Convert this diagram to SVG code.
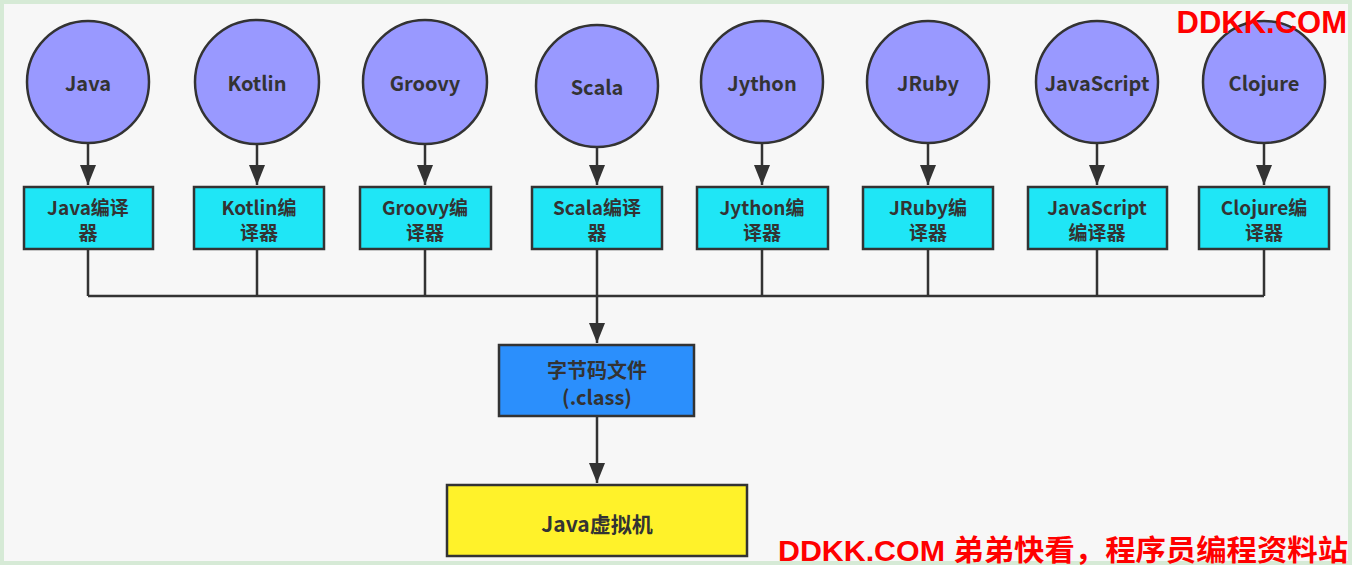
<svg xmlns="http://www.w3.org/2000/svg" width="1352" height="565" viewBox="0 0 1352 565">
<defs>
<style>
.bg{fill:#f7f7f7;stroke:#d6ead6;stroke-width:4}
.lang{fill:#9999ff;stroke:#333;stroke-width:2.5}
.comp{fill:#1fe6f6;stroke:#333;stroke-width:2.5}
.code{fill:#2b8ffc;stroke:#333;stroke-width:2.5}
.jvm{fill:#fff22a;stroke:#333;stroke-width:2.5}
.t{font-family:"Noto Sans CJK SC","Noto Sans",sans-serif;font-weight:bold;font-size:20px;fill:#333;text-anchor:middle}
.s{font-size:19px}
.wm{font-family:"Liberation Sans","Noto Sans CJK SC",sans-serif;font-weight:bold;fill:#ff0000}
.c{fill:none;stroke:#333;stroke-width:2.5}
</style>
<marker id="ahd" markerUnits="userSpaceOnUse" markerWidth="16" markerHeight="20" viewBox="0 0 16 20" refX="8" refY="20" orient="0">
<path d="M0 0 L16 0 L8 20 Z" fill="#333"/>
</marker>
</defs>
<rect class="bg" x="2" y="2" width="1348" height="561"/>

<g id="connectors">
<path class="c" d="M88 143 V185" marker-end="url(#ahd)"/>
<path class="c" d="M257 144 V185" marker-end="url(#ahd)"/>
<path class="c" d="M425 144 V185" marker-end="url(#ahd)"/>
<path class="c" d="M597 148 V185" marker-end="url(#ahd)"/>
<path class="c" d="M762 143 V185" marker-end="url(#ahd)"/>
<path class="c" d="M928 143 V185" marker-end="url(#ahd)"/>
<path class="c" d="M1097 143 V185" marker-end="url(#ahd)"/>
<path class="c" d="M1264 143 V185" marker-end="url(#ahd)"/>
<path class="c" d="M88 249 V296 M257 249 V296 M425 249 V296 M597 249 V296 M762 249 V296 M928 249 V296 M1097 249 V296 M1264 249 V296"/>
<path class="c" d="M88 296 H1264"/>
<path class="c" d="M597 296 V343" marker-end="url(#ahd)"/>
<path class="c" d="M597 416 V483" marker-end="url(#ahd)"/>
</g>

<g id="java"><circle class="lang" cx="88" cy="82" r="61"/><text class="t" x="88" y="91">Java</text></g>
<g id="kotlin"><circle class="lang" cx="257" cy="82" r="62"/><text class="t" x="257" y="91">Kotlin</text></g>
<g id="groovy"><circle class="lang" cx="425" cy="82" r="62"/><text class="t" x="425" y="91">Groovy</text></g>
<g id="scala"><circle class="lang" cx="597" cy="86" r="61"/><text class="t" x="597" y="95">Scala</text></g>
<g id="jython"><circle class="lang" cx="762" cy="82" r="61"/><text class="t" x="762" y="91">Jython</text></g>
<g id="jruby"><circle class="lang" cx="928" cy="82" r="61"/><text class="t" x="928" y="91">JRuby</text></g>
<g id="javascript"><circle class="lang" cx="1097" cy="82" r="61"/><text class="t" x="1097" y="91">JavaScript</text></g>
<g id="clojure"><circle class="lang" cx="1264" cy="82" r="61"/><text class="t" x="1264" y="91">Clojure</text></g>

<g id="java-compiler"><rect class="comp" x="24" y="187" width="129" height="62"/><text class="t s" x="88" y="215">Java编译</text><text class="t s" x="88" y="240">器</text></g>
<g id="kotlin-compiler"><rect class="comp" x="194" y="187" width="130" height="62"/><text class="t s" x="259" y="215">Kotlin编</text><text class="t s" x="259" y="240">译器</text></g>
<g id="groovy-compiler"><rect class="comp" x="360" y="187" width="131" height="62"/><text class="t s" x="425" y="215">Groovy编</text><text class="t s" x="425" y="240">译器</text></g>
<g id="scala-compiler"><rect class="comp" x="532" y="187" width="130" height="62"/><text class="t s" x="597" y="215">Scala编译</text><text class="t s" x="597" y="240">器</text></g>
<g id="jython-compiler"><rect class="comp" x="697" y="187" width="131" height="62"/><text class="t s" x="762" y="215">Jython编</text><text class="t s" x="762" y="240">译器</text></g>
<g id="jruby-compiler"><rect class="comp" x="863" y="187" width="130" height="62"/><text class="t s" x="928" y="215">JRuby编</text><text class="t s" x="928" y="240">译器</text></g>
<g id="javascript-compiler"><rect class="comp" x="1028" y="187" width="139" height="62"/><text class="t s" x="1097" y="215">JavaScript</text><text class="t s" x="1097" y="240">编译器</text></g>
<g id="clojure-compiler"><rect class="comp" x="1199" y="187" width="130" height="62"/><text class="t s" x="1264" y="215">Clojure编</text><text class="t s" x="1264" y="240">译器</text></g>

<g id="bytecode"><rect class="code" x="499" y="345" width="195" height="71"/><text class="t" x="597" y="378">字节码文件</text><text class="t" x="597" y="405">(.class)</text></g>
<g id="jvm"><rect class="jvm" x="447" y="485" width="300" height="71"/><text class="t" x="597" y="532" style="font-size:21px">Java虚拟机</text></g>

<text class="wm" x="1347" y="33" text-anchor="end" font-size="31">DDKK.COM</text>
<text class="wm" x="778" y="561" font-size="29" textLength="570" lengthAdjust="spacingAndGlyphs">DDKK.COM 弟弟快看，程序员编程资料站</text>
</svg>
